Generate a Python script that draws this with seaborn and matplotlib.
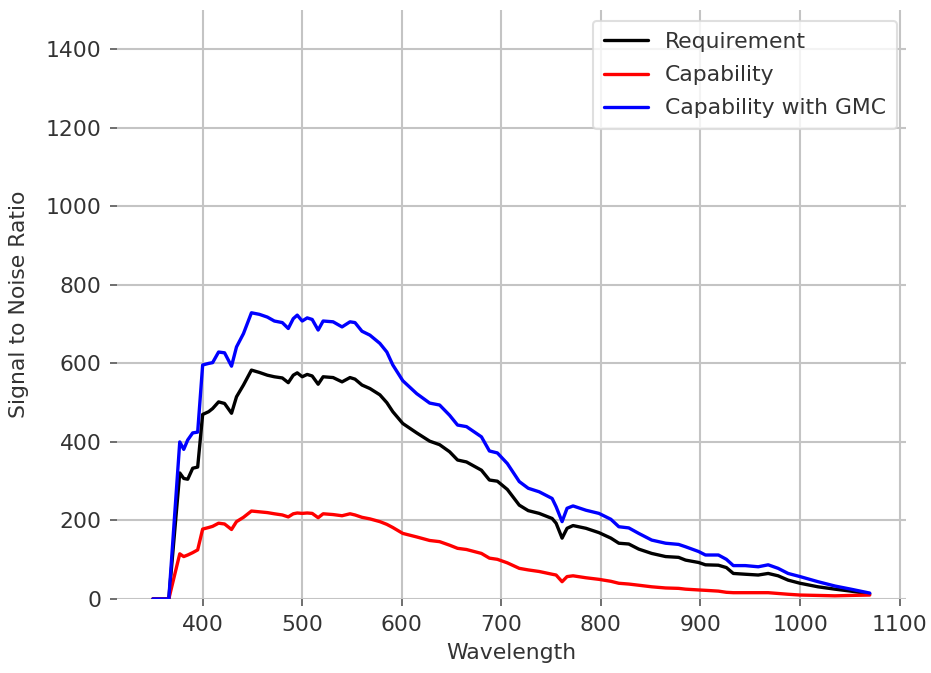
import matplotlib
matplotlib.use("Agg")
import matplotlib.pyplot as plt
import seaborn as sns
import pandas as pd

# Wavelength grid (nm) shared by all three curves
wavelength = [
    350, 366, 377, 381, 385, 390, 395, 400, 406, 410, 416, 422, 429, 434, 441,
    449, 457, 465, 472, 480, 486, 491, 495, 500, 505, 510, 516, 521, 531, 540,
    548, 553, 560, 568, 578, 585, 591, 601, 615, 628, 638, 648, 656, 665, 680,
    688, 696, 706, 718, 727, 738, 751, 755, 761, 766, 772, 785, 798, 810, 818,
    828, 838, 851, 865, 878, 885, 898, 905, 918, 926, 933, 945, 958, 968, 978,
    988, 1000, 1018, 1035, 1051, 1070,
]

requirement = [
    0, 0, 321, 307, 305, 333, 336, 470, 477, 485, 502, 498, 473, 515, 545,
    583, 577, 570, 566, 563, 551, 570, 576, 566, 572, 568, 547, 566, 564, 553,
    564, 560, 545, 536, 520, 500, 477, 447, 423, 402, 393, 375, 354, 349, 328,
    303, 300, 279, 239, 225, 218, 205, 193, 155, 180, 187, 180, 169, 155, 142,
    140, 127, 116, 108, 106, 99, 93, 87, 86, 80, 65, 63, 61, 65, 59,
    48, 40, 31, 25, 20, 13,
]

capability = [
    0, 0, 115, 108, 112, 118, 125, 178, 182, 185, 193, 191, 177, 197, 208,
    224, 222, 220, 217, 214, 209, 217, 219, 218, 219, 218, 207, 217, 215, 212,
    217, 214, 208, 204, 197, 190, 182, 167, 158, 149, 146, 137, 129, 126, 116,
    104, 101, 92, 78, 74, 70, 63, 61, 44, 57, 59, 54, 50, 45, 40,
    38, 35, 31, 28, 27, 25, 23, 22, 20, 17, 16, 16, 16, 16, 14,
    12, 10, 9, 8, 9, 10,
]

capability_gmc = [
    0, 0, 400, 381, 405, 423, 425, 596, 600, 602, 629, 627, 593, 642, 676,
    729, 725, 718, 708, 704, 689, 714, 723, 708, 716, 712, 685, 708, 706, 693,
    706, 704, 682, 672, 651, 629, 596, 556, 523, 499, 494, 468, 443, 439, 413,
    377, 372, 345, 299, 282, 273, 256, 235, 197, 231, 237, 226, 218, 203, 184,
    181, 167, 150, 142, 139, 133, 121, 112, 112, 101, 85, 85, 82, 87, 78,
    65, 57, 44, 33, 25, 15,
]

series_names = ["Requirement", "Capability", "Capability with GMC"]
series_colors = ["black", "red", "blue"]

frames = []
for name, values in zip(series_names, [requirement, capability, capability_gmc]):
    frames.append(pd.DataFrame({"Wavelength": wavelength,
                                "SNR": values,
                                "Series": name}))
df = pd.concat(frames, ignore_index=True)

sns.set_theme(style="whitegrid", rc={
    "grid.color": "#c4c4c4",
    "grid.linewidth": 1.0,
    "xtick.bottom": True,
    "ytick.left": True,
    "xtick.color": "#555555",
    "ytick.color": "#555555",
    "xtick.major.size": 3.5,
    "ytick.major.size": 3.5,
    "xtick.major.width": 0.8,
    "ytick.major.width": 0.8,
    "xtick.major.pad": 4,
    "ytick.major.pad": 4,
    "text.color": "#333333",
    "axes.labelcolor": "#333333",
})
plt.rcParams["font.family"] = ["DejaVu Sans"]

fig = plt.figure(figsize=(931 / 150, 673 / 150), dpi=150)
ax = fig.add_axes([0.1257, 0.110, 0.847, 0.875])

sns.lineplot(data=df, x="Wavelength", y="SNR", hue="Series",
             hue_order=series_names,
             palette=dict(zip(series_names, series_colors)),
             linewidth=1.6, ax=ax)

ax.set_ylim(0, 1500)
ax.set_yticks(range(0, 1401, 200))
ax.set_xticks(range(400, 1101, 100))
ax.set_xlabel("Wavelength", fontsize=10.5, labelpad=4)
ax.set_ylabel("Signal to Noise Ratio", fontsize=10.5, labelpad=8)
ax.tick_params(labelsize=10.5, labelcolor="#333333")

for spine in ax.spines.values():
    spine.set_visible(False)

leg = ax.legend(loc="upper right", bbox_to_anchor=(0.9892, 0.9813),
                fontsize=10.5, frameon=True, labelspacing=0.6,
                borderpad=0.5, borderaxespad=0.0)
leg.get_frame().set_edgecolor("#d8d8d8")

fig.savefig("out.png", dpi=150)
